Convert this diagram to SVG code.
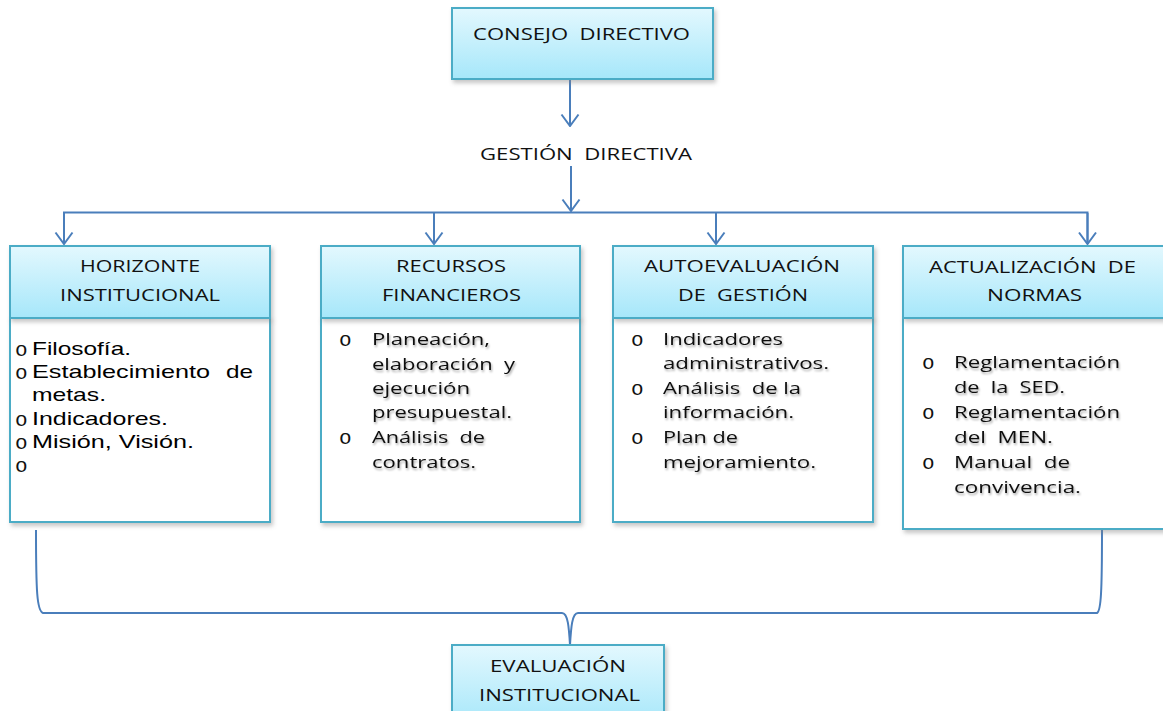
<svg xmlns="http://www.w3.org/2000/svg" width="1163" height="711" viewBox="0 0 1163 711">
<defs>
<linearGradient id="hg" x1="0" y1="0" x2="0" y2="1">
<stop offset="0" stop-color="#e3f8fe"/>
<stop offset="1" stop-color="#a6e7fa"/>
</linearGradient>
<filter id="sh" x="-10%" y="-10%" width="130%" height="130%">
<feDropShadow dx="2" dy="3" stdDeviation="2" flood-color="#808080" flood-opacity="0.45"/>
</filter>
<filter id="ts" x="-5%" y="-20%" width="115%" height="160%">
<feDropShadow dx="1" dy="2" stdDeviation="1.2" flood-color="#000" flood-opacity="0.35"/>
</filter>
<marker id="ah" viewBox="0 0 20 14" refX="10" refY="13" markerWidth="20" markerHeight="14" markerUnits="userSpaceOnUse" orient="0">
<path d="M1.5,1.5 L10,13 L18.5,1.5" fill="none" stroke="#4a7ebb" stroke-width="2"/>
</marker>
</defs>
<style>
text{white-space:pre}
.hd{fill:url(#hg);stroke:#4bacc6;stroke-width:2;filter:url(#sh)}
.bd{fill:#fff;stroke:#4bacc6;stroke-width:2;filter:url(#sh)}
.ht{font-family:"Open Sans","Liberation Sans",sans-serif;font-size:17px;fill:#111}
.at{font-family:"Liberation Sans",Arial,sans-serif;font-size:19px;fill:#000}
.ct{font-family:"Open Sans","Liberation Sans",sans-serif;font-size:17px;fill:#111;filter:url(#ts)}
.bu{font-family:"Liberation Mono",monospace;font-size:21px;fill:#111}
.cn{fill:none;stroke:#4a7ebb;stroke-width:2}
</style>

<g id="connectors">
<line class="cn" x1="570" y1="80" x2="570" y2="126" marker-end="url(#ah)"/>
<line class="cn" x1="571" y1="166" x2="571" y2="211" marker-end="url(#ah)"/>
<polyline class="cn" points="64,244 64,212.5 1087.5,212.5 1087.5,244"/>
<line class="cn" x1="64" y1="213" x2="64" y2="244" marker-end="url(#ah)"/>
<line class="cn" x1="434" y1="213" x2="434" y2="244" marker-end="url(#ah)"/>
<line class="cn" x1="716" y1="213" x2="716" y2="244" marker-end="url(#ah)"/>
<line class="cn" x1="1087.5" y1="213" x2="1087.5" y2="244" marker-end="url(#ah)"/>
<path class="cn" d="M36,530 C36,592 37,611 43,613 L562,613 C568,613 569,628 570,645 C571,628 572,613 578,613 L1097,613 C1101,611 1102,592 1102,530"/>
</g>

<g id="consejo">
<rect class="hd" x="452" y="8" width="261" height="71"/>
<text class="ht" x="473" y="40" textLength="217" lengthAdjust="spacingAndGlyphs">CONSEJO  DIRECTIVO</text>
</g>

<g id="gestion">
<text class="ht" x="480" y="160" textLength="212" lengthAdjust="spacingAndGlyphs">GESTIÓN  DIRECTIVA</text>
</g>

<g id="horizonte">
<rect class="bd" x="10" y="318" width="260" height="204"/>
<rect class="hd" x="10" y="246" width="260" height="72"/>
<text class="ht" x="80" y="272" textLength="120" lengthAdjust="spacingAndGlyphs">HORIZONTE</text>
<text class="ht" x="60" y="301" textLength="160" lengthAdjust="spacingAndGlyphs">INSTITUCIONAL</text>
<text class="bu" x="15" y="356">o</text>
<text class="at" x="32" y="355" textLength="99" lengthAdjust="spacingAndGlyphs">Filosofía.</text>
<text class="bu" x="15" y="379">o</text>
<text class="at" x="32" y="378" textLength="178" lengthAdjust="spacingAndGlyphs">Establecimiento</text>
<text class="at" x="226" y="378" textLength="27" lengthAdjust="spacingAndGlyphs">de</text>
<text class="at" x="32" y="401" textLength="74" lengthAdjust="spacingAndGlyphs">metas.</text>
<text class="bu" x="15" y="426">o</text>
<text class="at" x="32" y="425" textLength="136" lengthAdjust="spacingAndGlyphs">Indicadores.</text>
<text class="bu" x="15" y="449">o</text>
<text class="at" x="32" y="448" textLength="162" lengthAdjust="spacingAndGlyphs">Misión, Visión.</text>
<text class="bu" x="15" y="472">o</text>
</g>

<g id="recursos">
<rect class="bd" x="321" y="318" width="259" height="204"/>
<rect class="hd" x="321" y="246" width="259" height="72"/>
<text class="ht" x="396" y="272" textLength="110" lengthAdjust="spacingAndGlyphs">RECURSOS</text>
<text class="ht" x="382" y="301" textLength="139" lengthAdjust="spacingAndGlyphs">FINANCIEROS</text>
<text class="bu" x="339" y="346">o</text>
<text class="ct" x="372" y="345" textLength="118" lengthAdjust="spacingAndGlyphs">Planeación,</text>
<text class="ct" x="372" y="370" textLength="143" lengthAdjust="spacingAndGlyphs">elaboración  y</text>
<text class="ct" x="372" y="394" textLength="98" lengthAdjust="spacingAndGlyphs">ejecución</text>
<text class="ct" x="372" y="418" textLength="140" lengthAdjust="spacingAndGlyphs">presupuestal.</text>
<text class="bu" x="339" y="444">o</text>
<text class="ct" x="372" y="443" textLength="113" lengthAdjust="spacingAndGlyphs">Análisis  de</text>
<text class="ct" x="372" y="468" textLength="104" lengthAdjust="spacingAndGlyphs">contratos.</text>
</g>

<g id="autoevaluacion">
<rect class="bd" x="613" y="318" width="260" height="204"/>
<rect class="hd" x="613" y="246" width="260" height="72"/>
<text class="ht" x="644" y="272" textLength="196" lengthAdjust="spacingAndGlyphs">AUTOEVALUACIÓN</text>
<text class="ht" x="678" y="301" textLength="130" lengthAdjust="spacingAndGlyphs">DE  GESTIÓN</text>
<text class="bu" x="631" y="346">o</text>
<text class="ct" x="663" y="345" textLength="120" lengthAdjust="spacingAndGlyphs">Indicadores</text>
<text class="ct" x="663" y="369" textLength="166" lengthAdjust="spacingAndGlyphs">administrativos.</text>
<text class="bu" x="631" y="395">o</text>
<text class="ct" x="663" y="394" textLength="138" lengthAdjust="spacingAndGlyphs">Análisis  de la</text>
<text class="ct" x="663" y="418" textLength="131" lengthAdjust="spacingAndGlyphs">información.</text>
<text class="bu" x="631" y="444">o</text>
<text class="ct" x="663" y="443" textLength="75" lengthAdjust="spacingAndGlyphs">Plan de</text>
<text class="ct" x="663" y="468" textLength="153" lengthAdjust="spacingAndGlyphs">mejoramiento.</text>
</g>

<g id="actualizacion">
<rect class="bd" x="903" y="318" width="262" height="211"/>
<rect class="hd" x="903" y="246" width="262" height="72"/>
<text class="ht" x="929" y="273" textLength="207" lengthAdjust="spacingAndGlyphs">ACTUALIZACIÓN  DE</text>
<text class="ht" x="987" y="301" textLength="95" lengthAdjust="spacingAndGlyphs">NORMAS</text>
<text class="bu" x="922" y="369">o</text>
<text class="ct" x="954" y="368" textLength="166" lengthAdjust="spacingAndGlyphs">Reglamentación</text>
<text class="ct" x="954" y="393" textLength="111" lengthAdjust="spacingAndGlyphs">de  la  SED.</text>
<text class="bu" x="922" y="419">o</text>
<text class="ct" x="954" y="418" textLength="166" lengthAdjust="spacingAndGlyphs">Reglamentación</text>
<text class="ct" x="954" y="443" textLength="99" lengthAdjust="spacingAndGlyphs">del  MEN.</text>
<text class="bu" x="922" y="469">o</text>
<text class="ct" x="954" y="468" textLength="116" lengthAdjust="spacingAndGlyphs">Manual  de</text>
<text class="ct" x="954" y="493" textLength="127" lengthAdjust="spacingAndGlyphs">convivencia.</text>
</g>

<g id="evaluacion">
<rect class="hd" x="452" y="645" width="212" height="80"/>
<text class="ht" x="490" y="672" textLength="136" lengthAdjust="spacingAndGlyphs">EVALUACIÓN</text>
<text class="ht" x="479" y="701" textLength="161" lengthAdjust="spacingAndGlyphs">INSTITUCIONAL</text>
</g>
</svg>
